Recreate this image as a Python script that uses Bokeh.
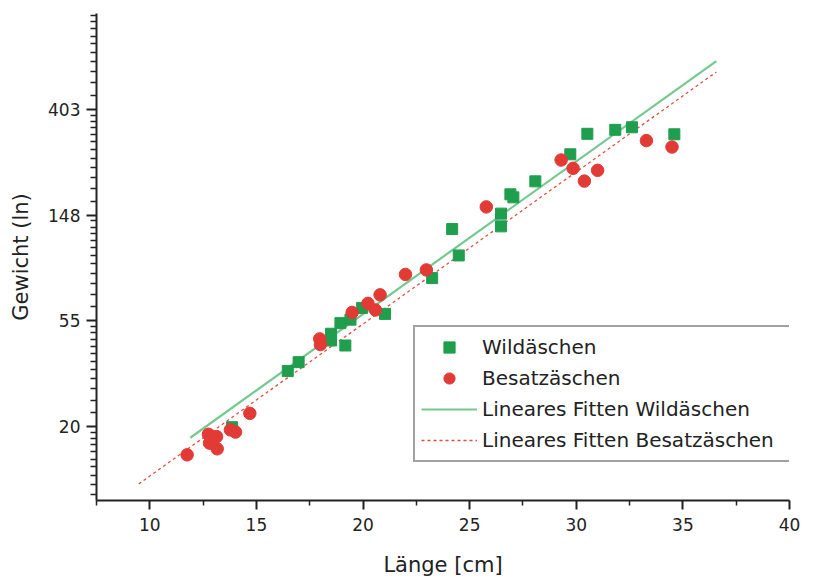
import math
from bokeh.plotting import figure
from bokeh.models import Range1d, FixedTicker, CustomJSTickFormatter, Legend, LegendItem
from bokeh.embed import file_html
from bokeh.resources import INLINE

# ---- data ----
wild_len = [13.86, 16.47, 16.98, 18.50, 18.50, 18.94, 19.17, 19.41, 19.96, 21.03,
            23.24, 24.49, 24.18, 26.47, 26.47, 26.91, 27.05, 28.08, 29.72, 30.52,
            31.83, 32.61, 34.60]
wild_wt = [20.0, 34.0, 37.0, 48.4, 45.4, 53.5, 43.3, 55.3, 61.8, 58.4,
           81.9, 101.5, 130.2, 150.7, 133.6, 180.9, 175.8, 204.5, 264.1, 320.6,
           332.9, 341.0, 319.1]

bes_len = [11.75, 12.75, 12.99, 12.80, 13.16, 13.13, 13.78, 14.02, 14.69, 17.97,
           18.00, 19.49, 20.23, 20.58, 20.80, 21.99, 22.97, 25.78, 29.29, 29.85,
           30.38, 31.00, 33.29, 34.49]
bes_wt = [15.4, 18.7, 18.0, 17.2, 16.3, 18.3, 19.5, 19.1, 22.8, 46.1,
          43.7, 59.2, 64.5, 60.6, 69.9, 84.8, 88.5, 160.6, 250.2, 231.3,
          205.0, 226.9, 300.6, 282.9]

fit_wild_len = [11.9, 36.57]
fit_wild_wt = [18.1, 638.0]
fit_bes_len = [9.48, 36.57]
fit_bes_wt = [11.7, 575.0]

x_ticks = [10, 15, 20, 25, 30, 35, 40]
x_minor = [7.5, 12.5, 17.5, 22.5, 27.5, 32.5, 37.5]
y_ticks = [math.exp(3), math.exp(4), math.exp(5), math.exp(6)]
y_tick_labels = ["20", "55", "148", "403"]

# minor ticks: linear subdivisions between e^n and e^(n+1)
y_minor = []
for n in range(2, 7):
    a, b = math.exp(n), math.exp(n + 1)
    for k in range(1, 12):
        v = a + k * (b - a) / 12.0
        if 10 <= v <= 1000:
            y_minor.append(v)

FONT = "DejaVu Sans"
TXT = "#222222"

p = figure(width=831, height=579, y_axis_type="log",
           x_range=Range1d(7.5, 40), y_range=Range1d(10, 1000),
           output_backend="svg", toolbar_location=None,
           min_border_left=96, min_border_right=42, min_border_top=13,
           min_border_bottom=79)
p.outline_line_color = None
p.xgrid.visible = False
p.ygrid.visible = False
p.background_fill_color = "white"
p.border_fill_color = "white"

r_fit_w = p.line(fit_wild_len, fit_wild_wt, line_color="#74c98f", line_width=2.2)
r_fit_b = p.line(fit_bes_len, fit_bes_wt, line_color="#e2503f", line_width=1.3,
                 line_dash="3 3")
r_w = p.scatter(wild_len, wild_wt, marker="square", size=11,
                fill_color="#1f9e4e", line_color="#1f9e4e")
r_b = p.scatter(bes_len, bes_wt, marker="circle", size=12.5,
                fill_color="#e23b36", line_color="#e23b36")

# axes
for ax in (p.xaxis[0], p.yaxis[0]):
    ax.axis_line_width = 2
    ax.axis_line_color = "#222222"
    ax.major_tick_line_width = 2
    ax.minor_tick_line_width = 1.5
    ax.major_tick_line_color = "#222222"
    ax.minor_tick_line_color = "#222222"
    ax.major_tick_in = 0
    ax.minor_tick_in = 0
    ax.major_label_text_font = FONT
    ax.major_label_text_font_size = "17px"
    ax.major_label_text_color = TXT
    ax.axis_label_text_font = FONT
    ax.axis_label_text_font_size = "21px"
    ax.axis_label_text_font_style = "normal"
    ax.axis_label_text_color = TXT

xa = p.xaxis[0]
xa.ticker = FixedTicker(ticks=x_ticks, minor_ticks=x_minor)
xa.major_tick_out = 9
xa.minor_tick_out = 5
xa.major_label_standoff = 8
xa.axis_label = "Länge [cm]"
xa.axis_label_standoff = 19

ya = p.yaxis[0]
ya.ticker = FixedTicker(ticks=y_ticks, minor_ticks=y_minor)
ya.formatter = CustomJSTickFormatter(args=dict(tv=y_ticks, tl=y_tick_labels), code="""
for (let i = 0; i < tv.length; i++) {
  if (Math.abs(tick - tv[i]) < 1e-6 * tv[i]) { return tl[i]; }
}
return "";
""")
ya.major_tick_out = 10
ya.minor_tick_out = 6
ya.major_label_standoff = 6
ya.axis_label = "Gewicht (ln)"
ya.axis_label_standoff = 12

legend = Legend(items=[
    LegendItem(label="Wildäschen", renderers=[r_w]),
    LegendItem(label="Besatzäschen", renderers=[r_b]),
    LegendItem(label="Lineares Fitten Wildäschen", renderers=[r_fit_w]),
    LegendItem(label="Lineares Fitten Besatzäschen", renderers=[r_fit_b]),
], location=(317, 38))
legend.label_text_font = FONT
legend.label_text_font_size = "20px"
legend.label_text_color = TXT
legend.border_line_color = "#444444"
legend.border_line_width = 2
legend.background_fill_color = "white"
legend.background_fill_alpha = 1
legend.padding = 6
legend.spacing = 3
legend.glyph_width = 56
legend.glyph_height = 28
legend.label_height = 28
legend.label_standoff = 5
legend.label_width = 302
legend.margin = 0
p.add_layout(legend)

open("out.html", "w").write(file_html(p, INLINE))
